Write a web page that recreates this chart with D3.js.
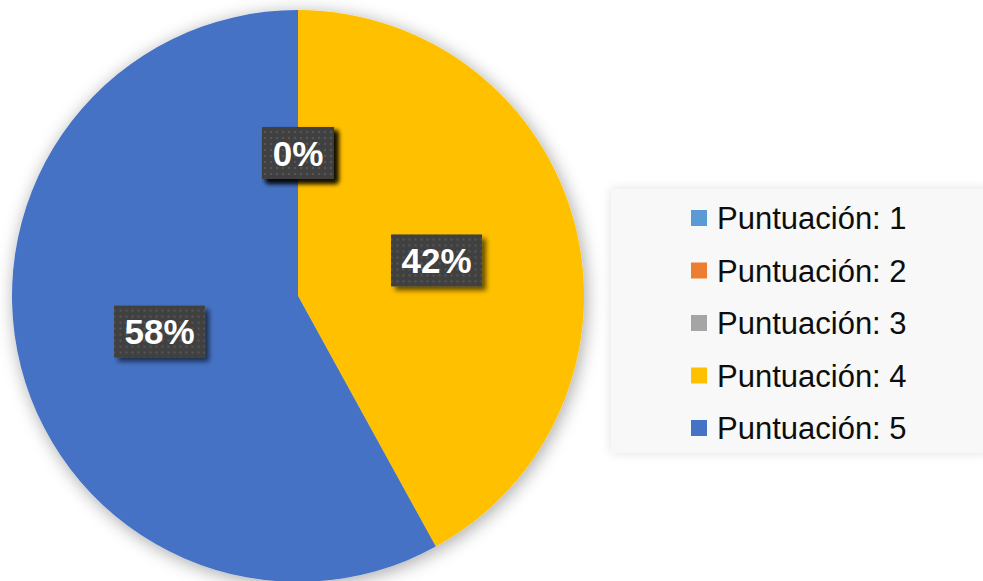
<!DOCTYPE html>
<html>
<head>
<meta charset="utf-8">
<script src="https://cdn.jsdelivr.net/npm/d3@7"></script>
<style>
  html, body { margin: 0; padding: 0; background: #ffffff; }
  svg { display: block; }
</style>
</head>
<body>
<svg id="chart" width="983" height="581"></svg>
<script>
// Survey scores and the share of answers each one received (percent)
const categories = ["Puntuación: 1", "Puntuación: 2", "Puntuación: 3", "Puntuación: 4", "Puntuación: 5"];
const values = [0, 0, 0, 42, 58];
const colors = ["#5B9BD5", "#ED7D31", "#A5A5A5", "#FFC000", "#4472C4"];

const svg = d3.select("#chart");
const width = 983, height = 581;
const cx = 298, cy = 296, radius = 286;

const defs = svg.append("defs");

// soft glow under the pie
const pieShadow = defs.append("filter").attr("id", "pieShadow")
  .attr("x", "-20%").attr("y", "-20%").attr("width", "140%").attr("height", "140%");
pieShadow.append("feGaussianBlur").attr("in", "SourceAlpha").attr("stdDeviation", 9).attr("result", "b");
pieShadow.append("feOffset").attr("in", "b").attr("dx", 2).attr("dy", 3).attr("result", "o");
pieShadow.append("feComponentTransfer").attr("in", "o").attr("result", "s")
  .append("feFuncA").attr("type", "linear").attr("slope", 0.35);
const m1 = pieShadow.append("feMerge");
m1.append("feMergeNode").attr("in", "s");
m1.append("feMergeNode").attr("in", "SourceGraphic");

// legend panel shadow
const legShadow = defs.append("filter").attr("id", "legShadow")
  .attr("x", "-20%").attr("y", "-20%").attr("width", "140%").attr("height", "140%");
legShadow.append("feGaussianBlur").attr("in", "SourceAlpha").attr("stdDeviation", 6).attr("result", "b");
legShadow.append("feComponentTransfer").attr("in", "b").attr("result", "s")
  .append("feFuncA").attr("type", "linear").attr("slope", 0.12);
const m2 = legShadow.append("feMerge");
m2.append("feMergeNode").attr("in", "s");
m2.append("feMergeNode").attr("in", "SourceGraphic");

// drop shadow for the label boxes
const boxShadow = defs.append("filter").attr("id", "boxShadow")
  .attr("x", "-30%").attr("y", "-30%").attr("width", "160%").attr("height", "160%");
boxShadow.append("feGaussianBlur").attr("in", "SourceAlpha").attr("stdDeviation", 2.5).attr("result", "b");
boxShadow.append("feOffset").attr("in", "b").attr("dx", 4).attr("dy", 4).attr("result", "o");
boxShadow.append("feComponentTransfer").attr("in", "o").attr("result", "s")
  .append("feFuncA").attr("type", "linear").attr("slope", 0.6);
const m3 = boxShadow.append("feMerge");
m3.append("feMergeNode").attr("in", "s");
m3.append("feMergeNode").attr("in", "SourceGraphic");

// dotted texture for the label boxes
const pat = defs.append("pattern").attr("id", "dots")
  .attr("patternUnits", "userSpaceOnUse").attr("width", 6).attr("height", 6);
pat.append("rect").attr("width", 6).attr("height", 6).attr("fill", "#404040");
pat.append("circle").attr("cx", 3).attr("cy", 3).attr("r", 1.3).attr("fill", "#545454");

// pie
const color = d3.scaleOrdinal().domain(categories).range(colors);
const pie = d3.pie().sort(null).value(d => d.value);
const data = categories.map((c, i) => ({ cat: c, value: values[i] }));
const arcs = pie(data);
const arc = d3.arc().innerRadius(0).outerRadius(radius);
const labelArc = d3.arc().innerRadius(radius * 0.5).outerRadius(radius * 0.5);

const g = svg.append("g").attr("transform", `translate(${cx},${cy})`);
g.append("g").attr("filter", "url(#pieShadow)")
  .selectAll("path").data(arcs).join("path")
  .attr("d", arc)
  .attr("fill", d => color(d.data.cat));

// percentage labels
const fmt = d3.format(".0%");
const labels = g.selectAll("g.lbl").data(arcs).join("g")
  .attr("class", "lbl")
  .attr("transform", d => `translate(${labelArc.centroid(d)})`);

labels.each(function (d) {
  const lg = d3.select(this);
  const box = lg.append("rect").attr("fill", "url(#dots)").attr("filter", "url(#boxShadow)");
  const t = lg.append("text")
    .attr("text-anchor", "middle")
    .attr("y", 12.5)
    .attr("fill", "#ffffff")
    .attr("font-family", "'Liberation Sans', Arial, sans-serif")
    .attr("font-weight", "bold")
    .attr("font-size", 35)
    .text(fmt(d.data.value / 100));
  const w = t.node().getComputedTextLength() + 21;
  const h = 52;
  box.attr("x", -w / 2).attr("y", -h / 2).attr("width", w).attr("height", h);
});

// legend
const legX = 611, legY = 189, legW = 380, legH = 264;
const leg = svg.append("g");
leg.append("rect")
  .attr("x", legX).attr("y", legY).attr("width", legW).attr("height", legH)
  .attr("fill", "#f8f8f8")
  .attr("filter", "url(#legShadow)");

const legScale = d3.scalePoint().domain(categories).range([218, 428]);
const items = leg.selectAll("g.item").data(categories).join("g")
  .attr("class", "item")
  .attr("transform", d => `translate(691,${legScale(d)})`);
items.append("rect")
  .attr("x", 0).attr("y", -8).attr("width", 16).attr("height", 16)
  .attr("fill", d => color(d));
items.append("text")
  .attr("x", 26).attr("y", 11)
  .attr("fill", "#0d0d0d")
  .attr("font-family", "'Liberation Sans', Arial, sans-serif")
  .attr("font-size", 31)
  .text(d => d);
</script>
</body>
</html>
